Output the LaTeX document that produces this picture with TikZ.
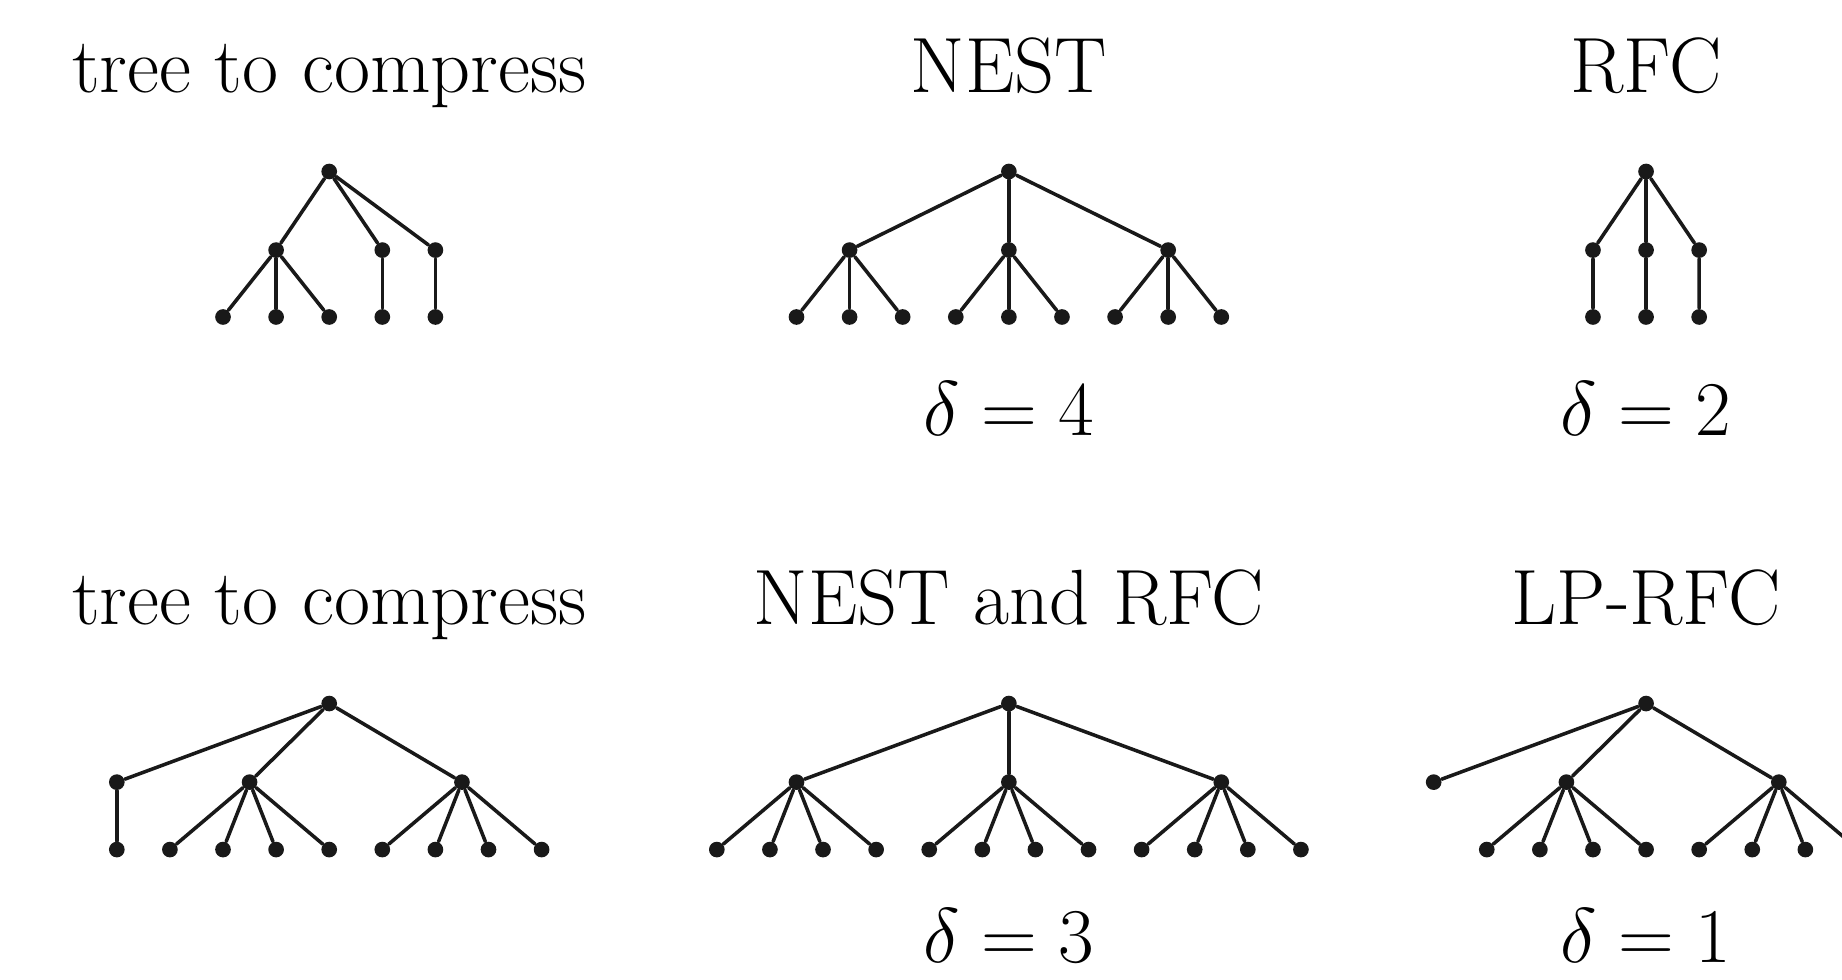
\documentclass[tikz,border=0pt]{standalone}
\begin{document}
\begin{tikzpicture}[x=0.5cm,y=0.5cm,line join=round,line cap=round,
  dot/.style={circle,fill=black!90,inner sep=0pt,minimum size=4.2pt},
  edge/.style={line width=0.95pt,black!90},
  title/.style={anchor=base,font=\fontsize{21}{25}\selectfont}]
	\clip (0,0) rectangle (34.69,-18.44);
	%Tieu de hang tren
	\node[title] (tA) at (6.2,-1.75) {tree to compress};
	\node[title] (tB) at (19,-1.75) {NEST};
	\node[title] (tC) at (31,-1.75) {RFC};
	%Cay can nen (tren)
	\node[dot] (a) at (6.2,-3.23) {};
	\foreach \i/\x in {1/-1,2/1,3/2} {
		\node[dot] (a\i) at ({6.2+(\x)},-4.71) {};
		\draw[edge] (a)--(a\i);
	}
	\foreach \j/\x in {1/-2,2/-1,3/0,4/1,5/2}
		\node[dot] (aL\j) at ({6.2+(\x)},-5.97) {};
	\foreach \j in {1,2,3} \draw[edge] (a1)--(aL\j);
	\draw[edge] (a2)--(aL4);
	\draw[edge] (a3)--(aL5);
	%NEST
	\node[dot] (b) at (19,-3.23) {};
	\foreach \i/\x in {1/-3,2/0,3/3} {
		\node[dot] (b\i) at ({19+(\x)},-4.71) {};
		\draw[edge] (b)--(b\i);
		\foreach \j in {1,2,3} {
			\node[dot] (b\i\j) at ({19+(\x)+\j-2},-5.97) {};
			\draw[edge] (b\i)--(b\i\j);
		}
	}
	\node[title] (dB) at (19,-8.2) {$\delta = 4$};
	%RFC
	\node[dot] (c) at (31,-3.23) {};
	\foreach \i/\x in {1/-1,2/0,3/1} {
		\node[dot] (c\i) at ({31+(\x)},-4.71) {};
		\node[dot] (cL\i) at ({31+(\x)},-5.97) {};
		\draw[edge] (c)--(c\i)--(cL\i);
	}
	\node[title] (dC) at (31,-8.2) {$\delta = 2$};
	%Tieu de hang duoi
	\node[title] (tD) at (6.2,-11.77) {tree to compress};
	\node[title] (tE) at (19,-11.77) {NEST and RFC};
	\node[title] (tF) at (31,-11.77) {LP-RFC};
	%Cay can nen (duoi)
	\node[dot] (d) at (6.2,-13.25) {};
	\foreach \i/\x in {1/-4,2/-1.5,3/2.5} {
		\node[dot] (d\i) at ({6.2+(\x)},-14.73) {};
		\draw[edge] (d)--(d\i);
	}
	\node[dot] (dL0) at (2.2,-16) {};
	\draw[edge] (d1)--(dL0);
	\foreach \j in {1,...,4} {
		\node[dot] (dL\j) at ({6.2+\j-4},-16) {};
		\draw[edge] (d2)--(dL\j);
		\node[dot] (dR\j) at ({6.2+\j},-16) {};
		\draw[edge] (d3)--(dR\j);
	}
	%NEST and RFC
	\node[dot] (e) at (19,-13.25) {};
	\foreach \i/\x in {1/-4,2/0,3/4} {
		\node[dot] (e\i) at ({19+(\x)},-14.73) {};
		\draw[edge] (e)--(e\i);
		\foreach \j in {1,...,4} {
			\node[dot] (e\i\j) at ({19+(\x)+\j-2.5},-16) {};
			\draw[edge] (e\i)--(e\i\j);
		}
	}
	\node[title] (dE) at (19,-18.12) {$\delta = 3$};
	%LP-RFC
	\node[dot] (f) at (31,-13.25) {};
	\foreach \i/\x in {1/-4,2/-1.5,3/2.5} {
		\node[dot] (f\i) at ({31+(\x)},-14.73) {};
		\draw[edge] (f)--(f\i);
	}
	\foreach \j in {1,...,4} {
		\node[dot] (fL\j) at ({31+\j-4},-16) {};
		\draw[edge] (f2)--(fL\j);
		\node[dot] (fR\j) at ({31+\j},-16) {};
		\draw[edge] (f3)--(fR\j);
	}
	\node[title] (dF) at (31,-18.12) {$\delta = 1$};
\end{tikzpicture}
\end{document}
